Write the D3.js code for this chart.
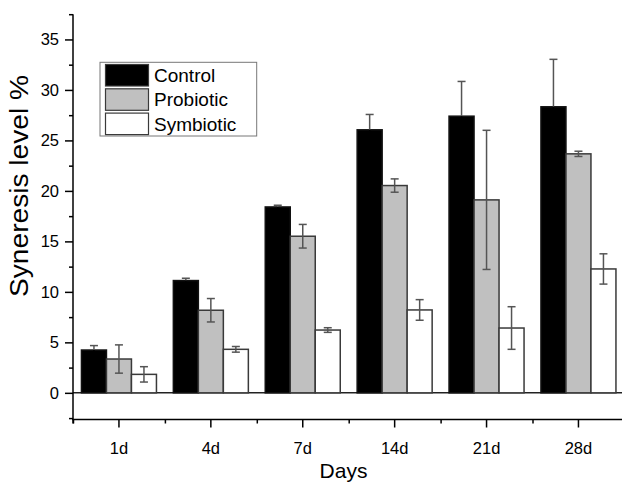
<!DOCTYPE html>
<html>
<head>
<meta charset="utf-8">
<script src="https://cdn.jsdelivr.net/npm/d3@7"></script>
<style>
  html, body { margin: 0; padding: 0; background: #fff; }
  svg { display: block; font-family: Arial, "Liberation Sans", sans-serif; }
</style>
</head>
<body>
<svg id="chart" width="622" height="482"></svg>
<script>
const categories = ["1d", "4d", "7d", "14d", "21d", "28d"];
const seriesNames = ["Control", "Probiotic", "Symbiotic"];
const controlValues   = [4.24, 11.12, 18.41, 26.05, 27.40, 28.33];
const controlErrors   = [0.44, 0.23, 0.17, 1.52, 3.44, 4.70];
const probioticValues = [3.35, 8.18, 15.51, 20.53, 19.11, 23.67];
const probioticErrors = [1.40, 1.16, 1.17, 0.66, 6.89, 0.26];
const symbioticValues = [1.83, 4.31, 6.22, 8.21, 6.42, 12.27];
const symbioticErrors = [0.76, 0.28, 0.23, 1.02, 2.11, 1.50];
const majorYTicks = [0, 5, 10, 15, 20, 25, 30, 35];
const minorYTicks = [-2.5, 2.5, 7.5, 12.5, 17.5, 22.5, 27.5, 32.5, 37.5];
const xTitle = "Days";
const yTitle = "Syneresis level %";

const fills = ["#000000", "#c0c0c0", "#ffffff"];
const values = [controlValues, probioticValues, symbioticValues];
const errors = [controlErrors, probioticErrors, symbioticErrors];

const svg = d3.select("#chart");
const x0 = 73, xEnd = 624.4, yTop = 14.2, yBottom = 419.5;

const x = d3.scaleBand().domain(categories).range([x0, xEnd]).paddingInner(0).paddingOuter(0);
const groupW = 75;
const xSub = d3.scaleBand().domain(seriesNames).range([0, groupW]).padding(0);
const y = d3.scaleLinear().domain([-2.64, 37.5]).range([yBottom, yTop]);

const tickFont = "16.5px";

// Zero line
svg.append("line")
  .attr("x1", x0).attr("x2", 622)
  .attr("y1", y(0)).attr("y2", y(0))
  .attr("stroke", "#222").attr("stroke-width", 1.5);

// Bars
const g = svg.append("g");
seriesNames.forEach((s, si) => {
  g.selectAll(".bar-" + si)
    .data(categories)
    .join("rect")
    .attr("x", d => x(d) + (x.bandwidth() - groupW) / 2 + xSub(s))
    .attr("y", (d, i) => y(values[si][i]))
    .attr("width", xSub.bandwidth())
    .attr("height", (d, i) => y(0) - y(values[si][i]))
    .attr("fill", fills[si])
    .attr("stroke", si === 0 ? "#111" : "#3a3a3a")
    .attr("stroke-width", 1.5);
});

// Error bars
const errColor = "#555";
seriesNames.forEach((s, si) => {
  categories.forEach((c, i) => {
    const cx = x(c) + (x.bandwidth() - groupW) / 2 + xSub(s) + xSub.bandwidth() / 2;
    const v = values[si][i], e = errors[si][i];
    const lowerColor = si === 0 ? fills[0] : errColor;
    g.append("line").attr("x1", cx).attr("x2", cx)
      .attr("y1", y(v)).attr("y2", y(v + e))
      .attr("stroke", errColor).attr("stroke-width", 1.5);
    g.append("line").attr("x1", cx).attr("x2", cx)
      .attr("y1", y(v)).attr("y2", y(v - e))
      .attr("stroke", lowerColor).attr("stroke-width", 1.5);
    g.append("line").attr("x1", cx - 4).attr("x2", cx + 4)
      .attr("y1", y(v + e)).attr("y2", y(v + e))
      .attr("stroke", errColor).attr("stroke-width", 1.5);
    g.append("line").attr("x1", cx - 4).attr("x2", cx + 4)
      .attr("y1", y(v - e)).attr("y2", y(v - e))
      .attr("stroke", lowerColor).attr("stroke-width", 1.5);
  });
});

// Y axis
const yAxisMajor = svg.append("g").attr("transform", `translate(${x0},0)`)
  .call(d3.axisLeft(y).tickValues(majorYTicks).tickSize(8).tickSizeOuter(0).tickPadding(6));
const yAxisMinor = svg.append("g").attr("transform", `translate(${x0},0)`)
  .call(d3.axisLeft(y).tickValues(minorYTicks).tickSize(4).tickSizeOuter(0).tickFormat(""));
[yAxisMajor, yAxisMinor].forEach(a => {
  a.selectAll("path, line").attr("stroke", "#000").attr("stroke-width", 1.5);
  a.selectAll("text").attr("font-size", tickFont).attr("fill", "#000")
    .attr("font-family", 'Arial, "Liberation Sans", sans-serif');
});
yAxisMajor.select(".domain").attr("d", `M0,${yTop}V${yBottom + 4}`);
yAxisMinor.select(".domain").remove();

// X axis
const xAxisMajor = svg.append("g").attr("transform", `translate(0,${yBottom})`)
  .call(d3.axisBottom(x).tickSize(8).tickSizeOuter(0).tickPadding(15));
const bounds = categories.map(c => x(c));
const xMinorScale = d3.scaleLinear().domain([0, 1]).range([0, 1]);
const xAxisMinor = svg.append("g").attr("transform", `translate(0,${yBottom})`)
  .call(d3.axisBottom(xMinorScale).tickValues(bounds).tickSize(4).tickSizeOuter(0).tickFormat(""));
[xAxisMajor, xAxisMinor].forEach(a => {
  a.selectAll("path, line").attr("stroke", "#000").attr("stroke-width", 1.5);
  a.selectAll("text").attr("font-size", tickFont).attr("fill", "#000")
    .attr("font-family", 'Arial, "Liberation Sans", sans-serif');
});
xAxisMajor.select(".domain").attr("d", `M${x0 - 1},0H622`);
xAxisMinor.select(".domain").remove();

// Axis titles
svg.append("text")
  .attr("x", (x0 + 622) / 2 - 4).attr("y", 478)
  .attr("text-anchor", "middle").attr("font-size", "21px").attr("fill", "#000")
  .text(xTitle);
svg.append("text")
  .attr("transform", `translate(28, 186) rotate(-90)`)
  .attr("text-anchor", "middle").attr("font-size", "25px").attr("fill", "#000")
  .attr("textLength", 222).attr("lengthAdjust", "spacingAndGlyphs")
  .text(yTitle);

// Legend
const lg = svg.append("g");
lg.append("rect").attr("x", 100).attr("y", 62.3).attr("width", 156.7).attr("height", 73.7)
  .attr("fill", "#fff").attr("stroke", "#777").attr("stroke-width", 1);
seriesNames.forEach((s, si) => {
  const top = 64 + si * 24.3;
  lg.append("rect").attr("x", 105.5).attr("y", top + 0.5).attr("width", 43).attr("height", 21.5)
    .attr("fill", fills[si]).attr("stroke", "#3a3a3a").attr("stroke-width", 1.2);
  lg.append("text").attr("x", 154).attr("y", top + 18).attr("font-size", "19px").attr("fill", "#000")
    .text(s);
});
</script>
</body>
</html>
